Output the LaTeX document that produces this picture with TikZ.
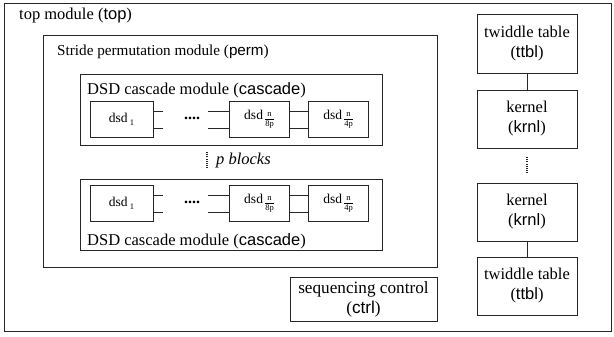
\documentclass[tikz,border=0pt]{standalone}
\usepackage{fontspec}
\setmainfont{Liberation Serif}
\setsansfont{Liberation Sans}
\newcommand{\smallfr}[2]{\raisebox{-2.2pt}{\fontsize{8.5}{8.5}\selectfont\renewcommand{\arraystretch}{1.15}\setlength{\arrayrulewidth}{0.5pt}\begin{tabular}{@{}c@{}}#1\\\hline #2\end{tabular}}}
\newcommand{\dsdlbl}[1]{dsd\,#1}
\begin{document}
\begin{tikzpicture}[x=1pt,y=-1pt,
  box/.style={draw=black!85,line width=0.9pt,inner sep=0pt,anchor=center},
  lbl/.style={inner sep=0pt,anchor=west,font=\rmfamily\fontsize{16.5}{18}\selectfont},
  dsdbox/.style={box,minimum height=36pt,font=\rmfamily\fontsize{13.5}{14}\selectfont},
  wire/.style={draw=black!85,line width=0.9pt},
  dotline/.style={draw=black!85,line width=1.3pt,dash pattern=on 1pt off 1.2pt},
  mod/.style={box,font=\rmfamily\fontsize{16.5}{20}\selectfont,align=center}]
\useasboundingbox (0,0) rectangle (614,337);
\node[box,minimum width=607pt,minimum height=328pt] (top) at (307.5,167) {};
\node[lbl] (toplbl) at (19,16) {top module (\textsf{top})};
\node[box,minimum width=394pt,minimum height=232pt] (perm) at (240,151) {};
\node[lbl,font=\rmfamily\fontsize{15.2}{18}\selectfont] (permlbl) at (57,52) {Stride permutation module (\textsf{perm})};
% cascade 1
\node[box,minimum width=302pt,minimum height=71pt] (casc1) at (231,109.5) {};
\node[lbl] (casc1lbl) at (87,90) {DSD cascade module (\textsf{cascade})};
\node[dsdbox,minimum width=63pt] (a1) at (121.5,119.5) {\dsdlbl{\raisebox{-0.45ex}{\fontsize{8.5}{9}\selectfont 1}}};
\node[dsdbox,minimum width=60pt] (a8) at (259,119.5) {\dsdlbl{\smallfr{n}{8p}}};
\node[dsdbox,minimum width=60pt] (a4) at (338,119.5) {\dsdlbl{\smallfr{n}{4p}}};
\node[inner sep=0pt,font=\fontsize{16}{18}\selectfont\bfseries] (adots) at (192,118) {....};
\draw[wire] ([yshift=-8.5pt]a1.east) -- ++(10,0) coordinate (a1u);
\draw[wire] ([yshift=8.5pt]a1.east) -- ++(10,0) coordinate (a1d);
\draw[wire] ([yshift=-8.5pt]a8.west) -- ++(-21,0) coordinate (a8u);
\draw[wire] ([yshift=8.5pt]a8.west) -- ++(-21,0) coordinate (a8d);
\draw[wire] ([yshift=-8.5pt]a8.east) -- ([yshift=-8.5pt]a4.west);
\draw[wire] ([yshift=8.5pt]a8.east) -- ([yshift=8.5pt]a4.west);
% p blocks
\coordinate (pb1) at (207,152);
\coordinate (pb2) at (207,168);
\draw[dotline] (pb1) -- (pb2);
\node[lbl,font=\rmfamily\fontsize{16.5}{18}\selectfont\itshape] (pbl) at (216,161) {p blocks};
% cascade 2
\node[box,minimum width=302pt,minimum height=71pt] (casc2) at (231,214.5) {};
\node[lbl] (casc2lbl) at (87,241) {DSD cascade module (\textsf{cascade})};
\node[dsdbox,minimum width=63pt] (b1) at (121.5,203.5) {\dsdlbl{\raisebox{-0.45ex}{\fontsize{8.5}{9}\selectfont 1}}};
\node[dsdbox,minimum width=60pt] (b8) at (259,203.5) {\dsdlbl{\smallfr{n}{8p}}};
\node[dsdbox,minimum width=60pt] (b4) at (338,203.5) {\dsdlbl{\smallfr{n}{4p}}};
\node[inner sep=0pt,font=\fontsize{16}{18}\selectfont\bfseries] (bdots) at (192,202) {....};
\draw[wire] ([yshift=-8.5pt]b1.east) -- ++(10,0) coordinate (b1u);
\draw[wire] ([yshift=8.5pt]b1.east) -- ++(10,0) coordinate (b1d);
\draw[wire] ([yshift=-8.5pt]b8.west) -- ++(-21,0) coordinate (b8u);
\draw[wire] ([yshift=8.5pt]b8.west) -- ++(-21,0) coordinate (b8d);
\draw[wire] ([yshift=-8.5pt]b8.east) -- ([yshift=-8.5pt]b4.west);
\draw[wire] ([yshift=8.5pt]b8.east) -- ([yshift=8.5pt]b4.west);
% control
\node[mod,minimum width=147pt,minimum height=44pt,font=\rmfamily\fontsize{17.2}{20}\selectfont] (ctrl) at (363.5,299) {sequencing control\\(\textsf{ctrl})};
% right column
\node[mod,minimum width=100pt,minimum height=59pt] (t1) at (527,43.5) {twiddle table\\(\textsf{ttbl})};
\node[mod,minimum width=100pt,minimum height=58pt] (k1) at (527,119) {kernel\\(\textsf{krnl})};
\node[mod,minimum width=100pt,minimum height=58pt] (k2) at (527,212) {kernel\\(\textsf{krnl})};
\node[mod,minimum width=100pt,minimum height=58pt] (t2) at (527,286) {twiddle table\\(\textsf{ttbl})};
\draw[wire] (t1) -- (k1);
\draw[wire] (k2) -- (t2);
\coordinate (kd1) at (527,157);
\coordinate (kd2) at (527,173);
\draw[dotline] (kd1) -- (kd2);
\end{tikzpicture}
\end{document}
